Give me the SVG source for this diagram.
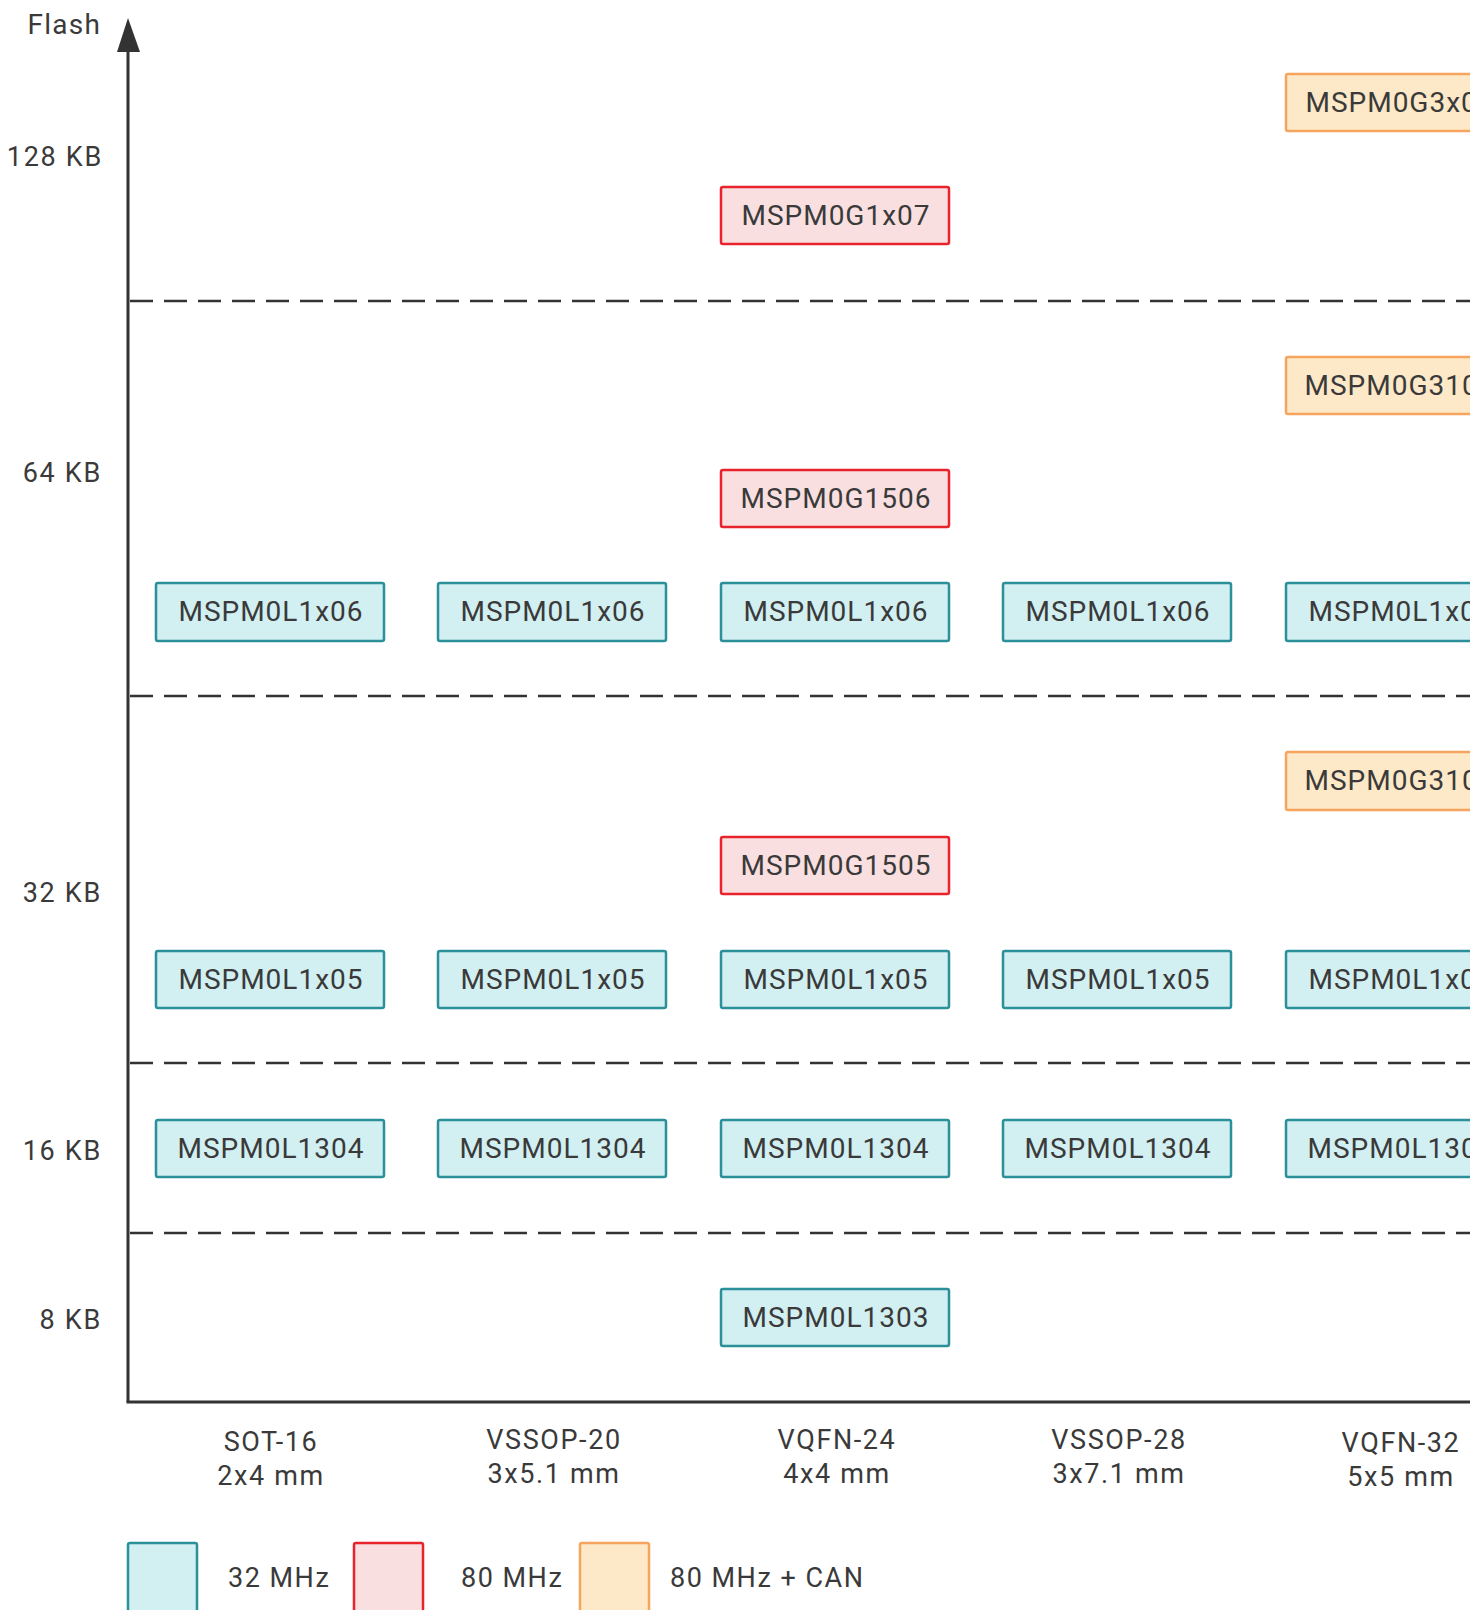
<svg xmlns="http://www.w3.org/2000/svg" width="1470" height="1610" viewBox="0 0 1470 1610">
<style>
text{font-family:Roboto,"Liberation Sans",sans-serif;fill:#3a3a3a;font-size:28px}
.nt{text-anchor:middle;letter-spacing:1px}
.ax{text-anchor:end;font-size:27px;letter-spacing:1.7px}
.cat{text-anchor:middle;font-size:27px;letter-spacing:1.6px}
.lg{font-size:27px;letter-spacing:1.5px}
.b32{fill:#d2eff2;stroke:#2b9099;stroke-width:2.5}
.b80{fill:#f9dfe0;stroke:#e8232c;stroke-width:2.5}
.bcan{fill:#fde8c7;stroke:#f7a45e;stroke-width:2.5}
.dash{stroke:#333;stroke-width:2.5;stroke-dasharray:23 11;fill:none}
.axis{stroke:#333;stroke-width:3;fill:none}
</style>
<rect width="1470" height="1610" fill="#fff"/>
<g id="connectors">
<path class="axis" d="M128,1402 V50"/>
<polygon points="128,18 117,52 140,52" fill="#333"/>
<path class="axis" d="M126.5,1402 H1470"/>
<path class="dash" d="M130,301 H1470"/>
<path class="dash" d="M130,696 H1470"/>
<path class="dash" d="M130,1063 H1470"/>
<path class="dash" d="M130,1233 H1470"/>
</g>
<g id="axis-labels">
<text class="ax" x="101" y="34" style="font-size:28px;letter-spacing:1.2px">Flash</text>
<text class="ax" x="103" y="166">128 KB</text>
<text class="ax" x="102" y="482">64 KB</text>
<text class="ax" x="102" y="902">32 KB</text>
<text class="ax" x="102" y="1160">16 KB</text>
<text class="ax" x="102" y="1329">8 KB</text>
</g>
<g id="package-labels">
<text class="cat" x="271" y="1451">SOT-16</text><text class="cat" x="271" y="1485">2x4 mm</text>
<text class="cat" x="554" y="1449">VSSOP-20</text><text class="cat" x="554" y="1483">3x5.1 mm</text>
<text class="cat" x="837" y="1449">VQFN-24</text><text class="cat" x="837" y="1483">4x4 mm</text>
<text class="cat" x="1119" y="1449">VSSOP-28</text><text class="cat" x="1119" y="1483">3x7.1 mm</text>
<text class="cat" x="1401" y="1452">VQFN-32</text><text class="cat" x="1401" y="1486">5x5 mm</text>
</g>
<g id="n-g3x07"><rect class="bcan" x="1286" y="74" width="228" height="57" rx="2"/><text class="nt" x="1400" y="112">MSPM0G3x07</text></g>
<g id="n-g1x07"><rect class="b80" x="721" y="187" width="228" height="57" rx="2"/><text class="nt" x="836" y="225">MSPM0G1x07</text></g>
<g id="n-g3106"><rect class="bcan" x="1286" y="357" width="228" height="57" rx="2"/><text class="nt" x="1400" y="395">MSPM0G3106</text></g>
<g id="n-g1506"><rect class="b80" x="721" y="470" width="228" height="57" rx="2"/><text class="nt" x="836" y="508">MSPM0G1506</text></g>
<g id="n-l1x06-1"><rect class="b32" x="156" y="583" width="228" height="58" rx="2"/><text class="nt" x="271" y="621">MSPM0L1x06</text></g>
<g id="n-l1x06-2"><rect class="b32" x="438" y="583" width="228" height="58" rx="2"/><text class="nt" x="553" y="621">MSPM0L1x06</text></g>
<g id="n-l1x06-3"><rect class="b32" x="721" y="583" width="228" height="58" rx="2"/><text class="nt" x="836" y="621">MSPM0L1x06</text></g>
<g id="n-l1x06-4"><rect class="b32" x="1003" y="583" width="228" height="58" rx="2"/><text class="nt" x="1118" y="621">MSPM0L1x06</text></g>
<g id="n-l1x06-5"><rect class="b32" x="1286" y="583" width="228" height="58" rx="2"/><text class="nt" x="1401" y="621">MSPM0L1x06</text></g>
<g id="n-g3105"><rect class="bcan" x="1286" y="752" width="228" height="58" rx="2"/><text class="nt" x="1400" y="790">MSPM0G3105</text></g>
<g id="n-g1505"><rect class="b80" x="721" y="837" width="228" height="57" rx="2"/><text class="nt" x="836" y="875">MSPM0G1505</text></g>
<g id="n-l1x05-1"><rect class="b32" x="156" y="951" width="228" height="57" rx="2"/><text class="nt" x="271" y="989">MSPM0L1x05</text></g>
<g id="n-l1x05-2"><rect class="b32" x="438" y="951" width="228" height="57" rx="2"/><text class="nt" x="553" y="989">MSPM0L1x05</text></g>
<g id="n-l1x05-3"><rect class="b32" x="721" y="951" width="228" height="57" rx="2"/><text class="nt" x="836" y="989">MSPM0L1x05</text></g>
<g id="n-l1x05-4"><rect class="b32" x="1003" y="951" width="228" height="57" rx="2"/><text class="nt" x="1118" y="989">MSPM0L1x05</text></g>
<g id="n-l1x05-5"><rect class="b32" x="1286" y="951" width="228" height="57" rx="2"/><text class="nt" x="1401" y="989">MSPM0L1x05</text></g>
<g id="n-l1304-1"><rect class="b32" x="156" y="1120" width="228" height="57" rx="2"/><text class="nt" x="271" y="1158">MSPM0L1304</text></g>
<g id="n-l1304-2"><rect class="b32" x="438" y="1120" width="228" height="57" rx="2"/><text class="nt" x="553" y="1158">MSPM0L1304</text></g>
<g id="n-l1304-3"><rect class="b32" x="721" y="1120" width="228" height="57" rx="2"/><text class="nt" x="836" y="1158">MSPM0L1304</text></g>
<g id="n-l1304-4"><rect class="b32" x="1003" y="1120" width="228" height="57" rx="2"/><text class="nt" x="1118" y="1158">MSPM0L1304</text></g>
<g id="n-l1304-5"><rect class="b32" x="1286" y="1120" width="228" height="57" rx="2"/><text class="nt" x="1401" y="1158">MSPM0L1304</text></g>
<g id="n-l1303"><rect class="b32" x="721" y="1289" width="228" height="57" rx="2"/><text class="nt" x="836" y="1327">MSPM0L1303</text></g>
<g id="legend">
<rect class="b32" x="128" y="1543" width="69" height="75" rx="2"/><text class="lg" x="228" y="1587">32 MHz</text>
<rect class="b80" x="354" y="1543" width="69" height="75" rx="2"/><text class="lg" x="461" y="1587">80 MHz</text>
<rect class="bcan" x="580" y="1543" width="69" height="75" rx="2"/><text class="lg" x="670" y="1587">80 MHz + CAN</text>
</g>
</svg>
